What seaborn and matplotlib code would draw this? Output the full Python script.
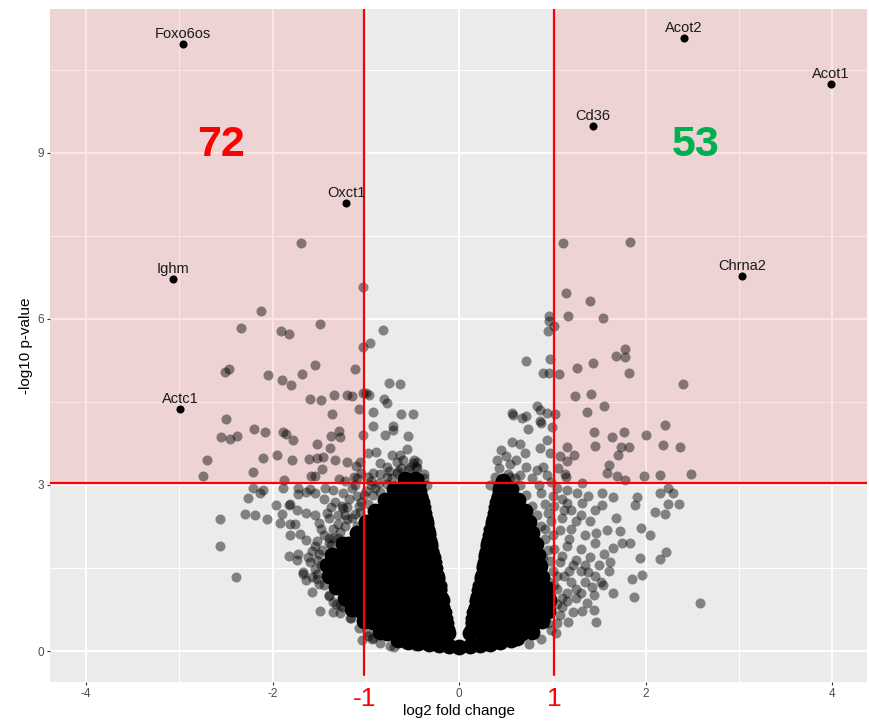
import pandas as pd
import seaborn as sns
import matplotlib.pyplot as plt
from matplotlib.transforms import blended_transform_factory

# labelled genes
genes = ['Foxo6os', 'Acot2', 'Acot1', 'Cd36', 'Oxct1', 'Ighm', 'Chrna2', 'Actc1']
gene_fc = [-2.96, 2.41, 3.98, 1.43, -1.21, -3.07, 3.03, -2.99]
gene_p = [10.96, 11.07, 10.25, 9.49, 8.10, 6.72, 6.78, 4.37]

# significant down (left pink box)
down_pts = [
    (-1.70, 7.38), (-1.03, 6.57), (-2.13, 6.15), (-2.34, 5.83), (-1.91, 5.78), (-1.83, 5.73), (-1.49, 5.90), (-1.03, 5.50),
    (-2.51, 5.05), (-2.47, 5.10), (-2.05, 4.99), (-1.90, 4.89), (-1.80, 4.81), (-1.69, 5.01), (-1.55, 5.17), (-1.12, 5.09),
    (-1.60, 4.55), (-1.48, 4.54), (-1.34, 4.63), (-1.20, 4.63), (-1.15, 4.61), (-2.50, 4.19), (-1.36, 4.28), (-1.08, 4.37),
    (-2.55, 3.87), (-2.46, 3.83), (-2.38, 3.89), (-2.20, 4.01), (-2.08, 3.96), (-1.89, 3.96), (-1.86, 3.92), (-1.78, 3.81),
    (-1.29, 3.98), (-1.37, 3.89), (-1.28, 3.86), (-1.52, 3.74), (-1.39, 3.67), (-2.70, 3.45), (-2.10, 3.48), (-1.95, 3.55),
    (-1.79, 3.46), (-1.61, 3.47), (-1.52, 3.48), (-1.46, 3.51), (-1.33, 3.46), (-1.20, 3.42), (-1.11, 3.34), (-1.06, 3.42),
    (-2.75, 3.17), (-2.21, 3.23), (-1.88, 3.09), (-1.59, 3.17), (-1.55, 3.17), (-1.47, 3.28), (-1.29, 3.10), (-1.13, 3.15),
    (-1.10, 3.12), (-1.03, 4.67), (-1.03, 3.90), (-1.05, 3.22), (-1.22, 3.07),
]

# significant up (right pink box)
up_pts = [
    (1.11, 7.37), (1.83, 7.39), (1.14, 6.46), (1.40, 6.33), (1.17, 6.06), (1.54, 6.02), (1.78, 5.45),
    (1.68, 5.33), (1.78, 5.31), (1.43, 5.20), (1.26, 5.12), (1.82, 5.03), (1.07, 5.01), (2.40, 4.83),
    (1.24, 4.61), (1.41, 4.64), (1.55, 4.43), (1.37, 4.31), (1.03, 4.28), (1.44, 3.96), (1.64, 3.86),
    (1.77, 3.95), (2.00, 3.91), (2.20, 4.08), (1.45, 3.71), (1.73, 3.68), (1.82, 3.69), (1.70, 3.55),
    (2.18, 3.72), (2.37, 3.69), (1.15, 3.68), (1.23, 3.55), (1.08, 3.53), (1.15, 3.43), (1.60, 3.36),
    (1.58, 3.21), (1.69, 3.16), (1.78, 3.09), (1.98, 3.16), (2.15, 3.18), (2.48, 3.19), (1.13, 3.20),
    (1.06, 3.30), (1.31, 3.04), (1.14, 3.14),
]

# not significant, scattered
ns_pts = [
    (-0.82, 5.80), (-0.96, 5.57), (-0.75, 4.84), (-0.64, 4.82), (-1.00, 4.67), (-0.97, 4.63), (-0.81, 4.55), (-0.78, 4.49),
    (-0.93, 4.31), (-0.62, 4.28), (-0.50, 4.28), (-0.93, 4.07), (-0.80, 3.90), (-0.71, 4.07), (-0.71, 3.99), (-0.55, 3.89),
    (-0.56, 3.65), (-0.64, 3.54), (-0.89, 3.60), (-0.98, 3.57), (-0.49, 3.45), (-0.46, 3.33), (-0.53, 3.33), (-0.67, 3.42),
    (-0.78, 3.33), (-0.85, 3.39), (-0.92, 3.21), (-0.78, 3.15), (-0.67, 3.21), (-0.56, 3.15), (-0.95, 3.08), (-0.86, 3.04),
    (-0.38, 3.20), (-0.62, 3.30), (-0.72, 3.55), (-0.42, 3.05), (-0.50, 3.40), (-0.45, 3.42), (-0.60, 3.45), (-0.85, 3.20),
    (-0.75, 3.25),
    (0.965, 6.06), (0.965, 5.97), (1.01, 5.88), (0.95, 5.78), (0.72, 5.24), (0.97, 5.28), (0.90, 5.02), (0.965, 5.02),
    (0.56, 4.30), (0.58, 4.27), (0.67, 4.21), (0.71, 4.25), (0.83, 4.42), (0.86, 4.36), (0.94, 4.30), (0.74, 4.01),
    (0.86, 4.16), (0.88, 4.12), (0.99, 4.05), (0.45, 3.63), (0.56, 3.78), (0.65, 3.74), (0.70, 3.57), (0.86, 3.66),
    (0.94, 3.81), (0.97, 3.58), (0.43, 3.30), (0.54, 3.38), (0.61, 3.45), (0.72, 3.33), (0.83, 3.27), (0.90, 3.33),
    (0.54, 3.15), (0.65, 3.18), (0.78, 3.12), (0.94, 3.18), (0.40, 3.45), (0.50, 3.52), (0.98, 3.05), (0.85, 3.00),
    (-2.57, 2.38), (-2.57, 1.89), (-2.39, 1.34), (-2.30, 2.48), (-2.19, 2.45), (-2.06, 2.39), (-2.26, 2.76), (-2.21, 2.95),
    (-2.14, 2.85), (-2.10, 2.91), (-1.96, 2.64), (-1.83, 2.64), (-1.92, 2.31), (-1.81, 2.29), (-1.76, 2.29), (-1.90, 2.48),
    (-1.74, 2.54), (-1.64, 2.49), (-1.55, 2.45), (-1.81, 2.65), (-1.73, 2.83), (-1.64, 2.88), (-1.55, 2.85), (-1.89, 2.95),
    (-1.73, 2.95), (-1.60, 2.93), (-1.44, 2.95), (-1.35, 2.91), (-1.81, 2.10), (-1.71, 2.11), (-1.64, 2.01), (-1.82, 1.72),
    (-1.73, 1.75), (-1.74, 1.64), (-1.67, 1.40), (-1.64, 1.28), (-1.58, 1.06), (-1.49, 0.73), (-1.35, 0.71), (-1.17, 0.59),
    (-1.04, 0.20), (-0.92, 0.23), (-0.74, 0.09), (-0.60, 0.14), (-1.40, 1.01), (-1.28, 0.83), (-1.58, 1.33), (-1.50, 1.21),
    (-0.99, 0.35), (-0.94, 0.21), (-0.57, 0.14), (-0.47, 0.09), (-1.67, 1.43), (-1.35, 0.89), (-1.26, 0.80),
    (-1.45, 2.75), (-1.38, 2.60), (-1.30, 2.45), (-1.48, 2.20), (-1.40, 2.05), (-1.30, 2.30), (-1.20, 2.60), (-1.10, 2.80),
    (-1.25, 2.85), (-1.15, 2.95), (-1.00, 2.90), (-0.95, 3.00), (-1.55, 1.90), (-1.50, 1.75), (-1.60, 1.60), (-1.28, 2.15),
    (-1.22, 2.45), (-1.05, 2.70), (-0.90, 2.95), (-1.35, 2.20), (-1.48, 1.55), (-1.52, 1.40), (-1.40, 2.40),
    (1.15, 2.91), (1.26, 2.85), (1.31, 2.67), (1.15, 2.67), (1.53, 2.85), (1.65, 2.79), (1.53, 2.63), (1.90, 2.79),
    (1.88, 2.64), (2.15, 2.85), (2.24, 2.94), (2.29, 2.86), (2.35, 2.66), (2.24, 2.66), (2.10, 2.52), (2.20, 2.48),
    (2.04, 2.10), (1.95, 2.22), (1.94, 1.68), (1.83, 1.96), (1.72, 2.16), (1.74, 1.96), (1.65, 1.86), (1.58, 2.19),
    (1.47, 2.13), (2.22, 1.78), (2.15, 1.66), (1.96, 1.37), (1.85, 1.31), (1.87, 0.98), (1.65, 1.04), (1.54, 1.19),
    (1.44, 1.01), (1.44, 0.74), (1.47, 0.53), (1.37, 0.86), (1.17, 0.53), (1.22, 0.71), (1.04, 0.32), (2.58, 0.86),
    (1.05, 2.95), (1.10, 2.75), (1.20, 2.55), (1.30, 2.45), (1.40, 2.35), (1.10, 2.40), (1.20, 2.20), (1.35, 2.10),
    (1.45, 1.95), (1.30, 1.85), (1.15, 1.90), (1.25, 1.65), (1.40, 1.70), (1.50, 1.55), (1.30, 1.45), (1.20, 1.25),
    (1.35, 1.25), (1.45, 1.35), (1.15, 1.05), (1.30, 1.05), (1.00, 2.10), (0.95, 2.50), (1.00, 2.80), (1.60, 1.45),
    (1.55, 1.75), (1.10, 0.80), (1.25, 0.95), (0.95, 0.50), (1.08, 1.60), (1.18, 1.45), (1.42, 1.15), (1.52, 1.25),
    (1.62, 1.60), (1.68, 2.40), (1.45, 2.55), (1.38, 2.80), (0.92, 2.20), (0.90, 1.70), (1.05, 1.35), (0.98, 1.00),
]

# crowded genes hugging the edge of the cloud
edge_pts = [
    (-0.85, 0.15), (-0.70, 0.08), (-0.98, 0.28), (-1.08, 0.42), (-1.16, 0.60), (-1.28, 0.68), (-1.32, 0.85), (-1.40, 1.00),
    (-1.45, 1.20), (-1.52, 1.30), (-1.55, 1.48), (-1.52, 1.65), (-1.47, 1.82), (-1.40, 1.95), (-1.30, 2.05), (-1.22, 2.25),
    (-1.15, 2.40), (-1.06, 2.52), (-0.98, 2.65), (-0.93, 2.82), (-0.85, 2.88), (-0.78, 3.02), (-0.72, 3.12), (-0.66, 3.25),
    (-0.55, 3.28), (-0.45, 3.30), (-0.38, 3.12), (-0.35, 3.00),
    (-1.42, 2.50), (-1.33, 2.70), (-1.25, 2.58), (-1.18, 2.75), (-1.12, 2.48), (-1.08, 2.62), (-1.02, 2.82), (-1.35, 2.05),
    (-1.45, 2.10), (-1.50, 2.32), (-1.38, 1.92), (-1.52, 1.98), (-1.58, 1.80), (-1.62, 1.70), (-1.26, 2.62), (-0.98, 3.15),
    (-1.12, 3.00), (-1.20, 2.38), (-1.10, 2.25), (-1.28, 1.98),
    (0.75, 0.12), (0.88, 0.22), (0.98, 0.38), (1.05, 0.50), (1.08, 0.65), (1.05, 0.85), (1.10, 0.95), (1.02, 1.20),
    (1.00, 1.45), (0.97, 1.62), (0.95, 1.82), (0.92, 2.02), (0.88, 2.25), (0.83, 2.45), (0.78, 2.62), (0.72, 2.82),
    (0.65, 3.00), (0.60, 3.12), (0.52, 3.20), (0.38, 3.15), (0.33, 3.00),
    (1.02, 2.62), (1.12, 2.55), (1.25, 2.35), (1.18, 2.02), (1.02, 1.85), (1.10, 1.72), (1.22, 1.55), (1.35, 1.55),
    (1.12, 1.35), (1.25, 1.12), (1.38, 1.42), (1.05, 1.12), (1.15, 0.90), (1.32, 0.72), (0.98, 2.35), (0.92, 2.65),
    (0.88, 2.85), (1.08, 2.18), (0.96, 1.25),
]

# dense core of the cloud (too packed to read single genes)
core_tip = [
    (-0.66, 0.20), (-0.55, 0.17), (-0.44, 0.15), (-0.33, 0.13), (-0.22, 0.11), (-0.11, 0.09), (0.00, 0.08),
    (0.11, 0.09), (0.22, 0.11), (0.33, 0.13), (0.44, 0.16), (0.55, 0.20), (0.62, 0.23),
]
core_left = [
    (-0.12, 0.33), (-0.23, 0.33), (-0.34, 0.33), (-0.45, 0.33), (-0.56, 0.33), (-0.67, 0.33), (-0.78, 0.33), (-0.85, 0.35),
    (-0.15, 0.53), (-0.26, 0.53), (-0.37, 0.53), (-0.48, 0.53), (-0.59, 0.53), (-0.70, 0.53), (-0.81, 0.53), (-0.92, 0.53), (-1.02, 0.55),
    (-0.17, 0.73), (-0.28, 0.73), (-0.39, 0.73), (-0.50, 0.73), (-0.61, 0.73), (-0.72, 0.73), (-0.83, 0.73), (-0.94, 0.73), (-1.05, 0.73), (-1.15, 0.76),
    (-0.19, 0.93), (-0.30, 0.93), (-0.41, 0.93), (-0.52, 0.93), (-0.63, 0.93), (-0.74, 0.93), (-0.85, 0.93), (-0.96, 0.93), (-1.07, 0.93), (-1.18, 0.93), (-1.23, 0.96),
    (-0.22, 1.13), (-0.33, 1.13), (-0.44, 1.13), (-0.55, 1.13), (-0.66, 1.13), (-0.77, 1.13), (-0.88, 1.13), (-0.99, 1.13), (-1.10, 1.13), (-1.21, 1.13), (-1.32, 1.15),
    (-0.24, 1.33), (-0.35, 1.33), (-0.46, 1.33), (-0.57, 1.33), (-0.68, 1.33), (-0.79, 1.33), (-0.90, 1.33), (-1.01, 1.33), (-1.12, 1.33), (-1.23, 1.33), (-1.34, 1.33), (-1.40, 1.36),
    (-0.27, 1.53), (-0.38, 1.53), (-0.49, 1.53), (-0.60, 1.53), (-0.71, 1.53), (-0.82, 1.53), (-0.93, 1.53), (-1.04, 1.53), (-1.15, 1.53), (-1.26, 1.53), (-1.37, 1.53), (-1.42, 1.55),
    (-0.29, 1.73), (-0.40, 1.73), (-0.51, 1.73), (-0.62, 1.73), (-0.73, 1.73), (-0.84, 1.73), (-0.95, 1.73), (-1.06, 1.73), (-1.17, 1.73), (-1.28, 1.73), (-1.36, 1.73),
    (-0.31, 1.93), (-0.42, 1.93), (-0.53, 1.93), (-0.64, 1.93), (-0.75, 1.93), (-0.86, 1.93), (-0.97, 1.93), (-1.08, 1.93), (-1.19, 1.93), (-1.25, 1.93),
    (-0.34, 2.13), (-0.45, 2.13), (-0.56, 2.13), (-0.67, 2.13), (-0.78, 2.13), (-0.89, 2.13), (-1.00, 2.13), (-1.10, 2.13),
    (-0.36, 2.33), (-0.47, 2.33), (-0.58, 2.33), (-0.69, 2.33), (-0.80, 2.33), (-0.91, 2.33), (-1.00, 2.33),
    (-0.39, 2.53), (-0.50, 2.53), (-0.61, 2.53), (-0.72, 2.53), (-0.83, 2.53), (-0.90, 2.53),
    (-0.41, 2.73), (-0.52, 2.73), (-0.63, 2.73), (-0.74, 2.73), (-0.80, 2.73),
    (-0.44, 2.93), (-0.55, 2.93), (-0.66, 2.93), (-0.70, 2.93),
    (-0.47, 3.10), (-0.58, 3.10),
]
core_right = [
    (0.12, 0.33), (0.23, 0.33), (0.34, 0.33), (0.45, 0.33), (0.56, 0.33), (0.67, 0.33), (0.78, 0.35),
    (0.15, 0.53), (0.26, 0.53), (0.37, 0.53), (0.48, 0.53), (0.59, 0.53), (0.70, 0.53), (0.81, 0.53), (0.89, 0.55),
    (0.17, 0.73), (0.28, 0.73), (0.39, 0.73), (0.50, 0.73), (0.61, 0.73), (0.72, 0.73), (0.83, 0.73), (0.95, 0.73),
    (0.19, 0.93), (0.30, 0.93), (0.41, 0.93), (0.52, 0.93), (0.63, 0.93), (0.74, 0.93), (0.85, 0.93), (0.96, 0.93),
    (0.22, 1.13), (0.33, 1.13), (0.44, 1.13), (0.55, 1.13), (0.66, 1.13), (0.77, 1.13), (0.88, 1.13), (0.93, 1.13),
    (0.24, 1.33), (0.35, 1.33), (0.46, 1.33), (0.57, 1.33), (0.68, 1.33), (0.79, 1.33), (0.89, 1.33),
    (0.27, 1.53), (0.38, 1.53), (0.49, 1.53), (0.60, 1.53), (0.71, 1.53), (0.82, 1.53), (0.86, 1.53),
    (0.29, 1.73), (0.40, 1.73), (0.51, 1.73), (0.62, 1.73), (0.73, 1.73), (0.84, 1.73),
    (0.31, 1.93), (0.42, 1.93), (0.53, 1.93), (0.64, 1.93), (0.75, 1.93), (0.82, 1.93),
    (0.34, 2.13), (0.45, 2.13), (0.56, 2.13), (0.67, 2.13), (0.78, 2.13),
    (0.36, 2.33), (0.47, 2.33), (0.58, 2.33), (0.69, 2.33), (0.75, 2.33),
    (0.39, 2.53), (0.50, 2.53), (0.61, 2.53), (0.70, 2.53),
    (0.41, 2.73), (0.52, 2.73), (0.63, 2.73),
    (0.44, 2.93), (0.55, 2.93),
    (0.47, 3.08),
]
# genes lining the two inner edges of the V
core_inner = [
    (-0.10, 0.40), (-0.11, 0.50), (-0.12, 0.60), (-0.13, 0.70), (-0.15, 0.80), (-0.16, 0.90), (-0.17, 1.00),
    (-0.18, 1.10), (-0.19, 1.20), (-0.21, 1.30), (-0.22, 1.40), (-0.23, 1.50), (-0.24, 1.60), (-0.25, 1.70),
    (-0.27, 1.80), (-0.28, 1.90), (-0.29, 2.00), (-0.30, 2.10), (-0.31, 2.20), (-0.33, 2.30), (-0.34, 2.40),
    (-0.35, 2.50), (-0.36, 2.60), (-0.37, 2.70), (-0.39, 2.80), (-0.40, 2.90), (-0.41, 3.00), (-0.43, 3.12),
    (0.10, 0.40), (0.11, 0.50), (0.12, 0.60), (0.13, 0.70), (0.15, 0.80), (0.16, 0.90), (0.17, 1.00),
    (0.18, 1.10), (0.19, 1.20), (0.21, 1.30), (0.22, 1.40), (0.23, 1.50), (0.24, 1.60), (0.25, 1.70),
    (0.27, 1.80), (0.28, 1.90), (0.29, 2.00), (0.30, 2.10), (0.31, 2.20), (0.33, 2.30), (0.34, 2.40),
    (0.35, 2.50), (0.36, 2.60), (0.37, 2.70), (0.39, 2.80), (0.40, 2.90), (0.41, 3.00),
]

counts = ['72', '53']
count_fc = [-2.55, 2.53]
count_p = [8.95, 8.95]
count_colors = ['#FF0000', '#00B050']

fc_cut = 1.02
p_cut = 3.04
xlo, xhi = -4.387, 4.370
ylo, yhi = -0.56, 11.60

sns.set_theme(style='darkgrid')
plt.rcParams['font.family'] = ['Liberation Sans', 'DejaVu Sans']
plt.rcParams['axes.facecolor'] = '#EBEBEB'

fig = plt.figure(figsize=(8.69, 7.22), dpi=100)
ax = fig.add_axes([50 / 869, 40 / 722, 817 / 869, 673 / 722])

cols = ['log2fc', 'nlogp']
cloud = pd.DataFrame(core_tip + core_left + core_right, columns=cols)
inner = pd.DataFrame(core_inner, columns=cols)
grey = pd.DataFrame(ns_pts + edge_pts + down_pts + up_pts, columns=cols)
lab = pd.DataFrame({'gene': genes, 'log2fc': gene_fc, 'nlogp': gene_p})

# pink boxes for the significant zones
ax.fill_between([xlo, -fc_cut], p_cut, yhi, color='red', alpha=0.1, lw=0, zorder=0.8)
ax.fill_between([fc_cut, xhi], p_cut, yhi, color='red', alpha=0.1, lw=0, zorder=0.8)

sns.scatterplot(data=cloud, x='log2fc', y='nlogp', color='black', s=130, linewidth=0, ax=ax, zorder=2)
sns.scatterplot(data=inner, x='log2fc', y='nlogp', color='black', s=52, linewidth=0, ax=ax, zorder=2)
sns.scatterplot(data=grey, x='log2fc', y='nlogp', color='black', alpha=0.45, s=52, linewidth=0, ax=ax, zorder=2)

ax.axhline(p_cut, color='red', lw=1.6, zorder=3)
vmin = (-0.43 - ylo) / (yhi - ylo)
ax.axvline(-fc_cut, ymin=vmin, ymax=1, color='red', lw=1.6, zorder=3)
ax.axvline(fc_cut, ymin=vmin, ymax=1, color='red', lw=1.6, zorder=3)

sns.scatterplot(data=lab, x='log2fc', y='nlogp', color='black', s=34, linewidth=0, ax=ax, zorder=4)
for g, x, y in zip(genes, gene_fc, gene_p):
    ax.annotate(g, (x, y), xytext=(0, 4.3), textcoords='offset points', ha='center', va='baseline',
                fontsize=10.5, color='#1a1a1a', zorder=5)

for t, x, y, c in zip(counts, count_fc, count_p, count_colors):
    ax.text(x, y, t, color=c, fontsize=31, fontweight='bold', ha='center', va='baseline', zorder=5)

trans = blended_transform_factory(ax.transData, ax.transAxes)
ax.text(-fc_cut, -0.035, '-1', transform=trans, color='red', fontsize=19, ha='center', va='baseline')
ax.text(fc_cut, -0.035, '1', transform=trans, color='red', fontsize=19, ha='center', va='baseline')

ax.set_xlim(xlo, xhi)
ax.set_ylim(ylo, yhi)
ax.set_xticks([-4, -2, 0, 2, 4])
ax.set_xticklabels(['-4', '-2', '0', '2', '4'])
ax.set_yticks([0, 3, 6, 9])
ax.set_xticks([-3, -1, 1, 3], minor=True)
ax.set_yticks([1.5, 4.5, 7.5, 10.5], minor=True)
ax.grid(which='major', color='white', lw=1.4)
ax.grid(which='minor', color='white', lw=0.7)
ax.set_axisbelow(True)
for sp in ax.spines.values():
    sp.set_visible(False)
ax.tick_params(which='major', length=2.5, width=0.8, color='#333333', labelcolor='#4D4D4D',
               labelsize=8.5, pad=2, bottom=True, left=True)
ax.tick_params(which='minor', length=0)
ax.set_xlabel('log2 fold change', fontsize=11, labelpad=3, color='black')
ax.set_ylabel('-log10 p-value', fontsize=11, labelpad=3, color='black')

fig.savefig('out.png', dpi=100)
